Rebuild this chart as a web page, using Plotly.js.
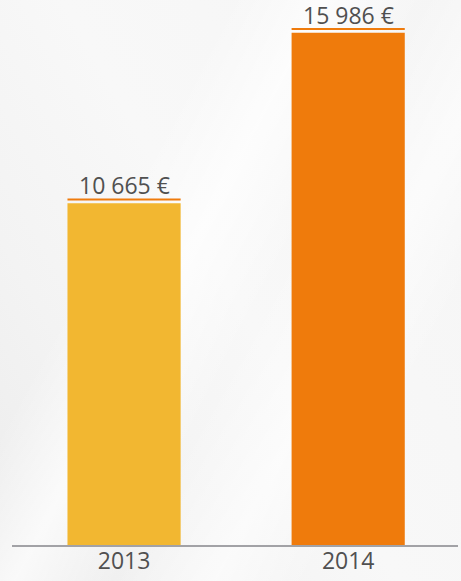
<!DOCTYPE html>
<html>
<head>
<meta charset="utf-8">
<script src="https://cdn.plot.ly/plotly-3.0.1.min.js"></script>
<style>
  html, body { margin:0; padding:0; }
  body {
    width:461px; height:581px; overflow:hidden;
    background:
      linear-gradient(118deg, rgba(255,255,255,0) 0%, rgba(255,255,255,0) 30%, rgba(255,255,255,0.7) 42%, rgba(255,255,255,0) 55%, rgba(255,255,255,0.6) 68%, rgba(255,255,255,0) 80%),
      linear-gradient(60deg, #ececec 0%, #f3f3f3 25%, #f8f8f8 50%, #f5f5f5 100%);
  }
  #chart { width:461px; height:581px; }
</style>
</head>
<body>
<div id="chart"></div>
<script>
const years = ['2013', '2014'];
const values = [10665, 15986];
const barColors = ['#F2B731', '#EF7B0C'];
const capColor = '#EF7B0C';

function fmt(v) {
  return String(v).replace(/\B(?=(\d{3})+(?!\d))/g, ' ') + ' €';
}

const trace = {
  type: 'bar',
  x: years.map((_, i) => i),
  y: values,
  width: 0.505,
  marker: { color: barColors },
  hoverinfo: 'skip'
};

const shapes = values.map((v, i) => ({
  type: 'line',
  xref: 'x', yref: 'y',
  x0: i - 0.2525, x1: i + 0.2525,
  ysizemode: 'pixel', yanchor: v,
  y0: 3.8, y1: 3.8,
  line: { color: capColor, width: 2 }
}));

const annotations = values.map((v, i) => ({
  x: i, y: v, xref: 'x', yref: 'y',
  text: fmt(v),
  showarrow: false,
  yanchor: 'bottom',
  yshift: 0,
  font: { family: 'Open Sans', size: 23, color: '#505050' }
}));

const layout = {
  width: 461, height: 581,
  margin: { l: 12, r: 3, t: 10, b: 36 },
  paper_bgcolor: 'rgba(0,0,0,0)',
  plot_bgcolor: 'rgba(0,0,0,0)',
  showlegend: false,
  xaxis: {
    range: [-0.5, 1.49],
    tickmode: 'array',
    tickvals: years.map((_, i) => i),
    ticktext: years,
    showgrid: false, zeroline: false,
    showline: true, linecolor: '#a2a2a6', linewidth: 2,
    ticks: '',
    ticklabelstandoff: -6,
    tickfont: { family: 'Open Sans', size: 23, color: '#505050' },
    fixedrange: true
  },
  yaxis: {
    range: [0, 16700],
    visible: false,
    showgrid: false, zeroline: false,
    fixedrange: true
  },
  shapes: shapes,
  annotations: annotations
};

Plotly.newPlot('chart', [trace], layout, { displayModeBar: false, staticPlot: true });
</script>
</body>
</html>
